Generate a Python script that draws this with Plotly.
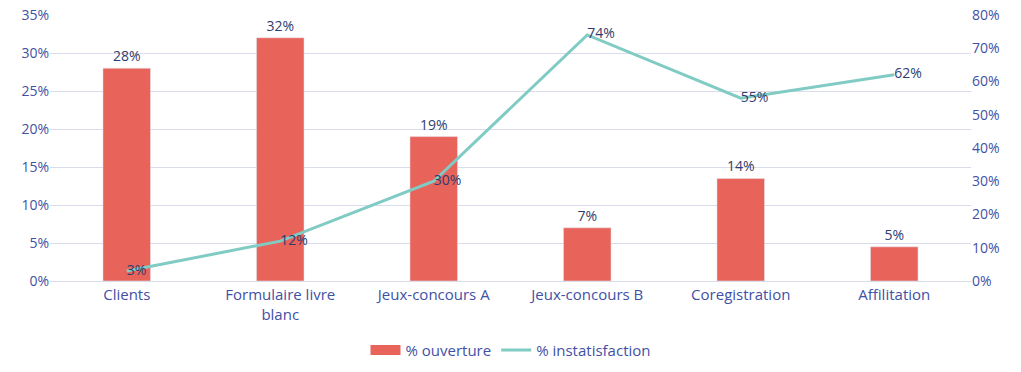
import plotly.graph_objects as go

categories = ["Clients", "Formulaire livre<br>blanc", "Jeux-concours A", "Jeux-concours B", "Coregistration", "Affilitation"]
ouverture = [0.28, 0.32, 0.19, 0.07, 0.135, 0.045]
ouverture_labels = ["28%", "32%", "19%", "7%", "14%", "5%"]
instatisfaction = [0.03, 0.12, 0.30, 0.74, 0.55, 0.62]
instatisfaction_labels = ["3%", "12%", "30%", "74%", "55%", "62%"]

font_family = "Open Sans, Liberation Sans, sans-serif"
tick_color = "#3F51A5"
label_color = "#2F3C6E"
bar_color = "#E8635A"

fig = go.Figure()
fig.add_trace(go.Bar(
    x=categories, y=ouverture, name="% ouverture", showlegend=False,
    marker=dict(color=bar_color), width=0.31,
    text=ouverture_labels, textposition="outside", cliponaxis=False,
    textfont=dict(color=label_color, size=14, family=font_family),
))
# legend entry with a wide rectangular swatch
fig.add_trace(go.Scatter(
    x=[None], y=[None], name="% ouverture", mode="lines",
    line=dict(color=bar_color, width=10),
))
fig.add_trace(go.Scatter(
    x=categories, y=instatisfaction, name="% instatisfaction", yaxis="y2",
    mode="lines+text", line=dict(color="#80CBC4", width=3),
    text=instatisfaction_labels, textposition="middle right", cliponaxis=False,
    textfont=dict(color=label_color, size=14, family=font_family),
))

fig.update_layout(
    width=1021, height=372,
    margin=dict(l=50, r=50, t=15, b=91, autoexpand=False),
    paper_bgcolor="white", plot_bgcolor="white",
    font=dict(family=font_family, color=tick_color, size=13),
    showlegend=True,
    legend=dict(orientation="h", x=0.5, xanchor="center", y=-0.26, yanchor="middle",
                font=dict(size=15, color=tick_color)),
    xaxis=dict(showgrid=False, showline=True, linecolor="#D9DCEB", ticks="",
               automargin=False, tickfont=dict(size=15, color=tick_color)),
    yaxis=dict(range=[0, 0.35], dtick=0.05, tickformat=".0%", gridcolor="#D9DCEB",
               zeroline=False, showline=False, ticks="", automargin=False,
               ticklabeloverflow="allow",
               tickfont=dict(size=14, color=tick_color)),
    yaxis2=dict(range=[0, 0.80], dtick=0.10, tickformat=".0%", overlaying="y", side="right",
                showgrid=False, zeroline=False, showline=False, automargin=False,
                ticklabeloverflow="allow",
                tickfont=dict(size=14, color=tick_color)),
    bargap=0.69,
)

fig.write_html("out.html", config={"displayModeBar": False},
               post_script="document.body.style.margin='0';document.body.style.overflow='hidden';")
